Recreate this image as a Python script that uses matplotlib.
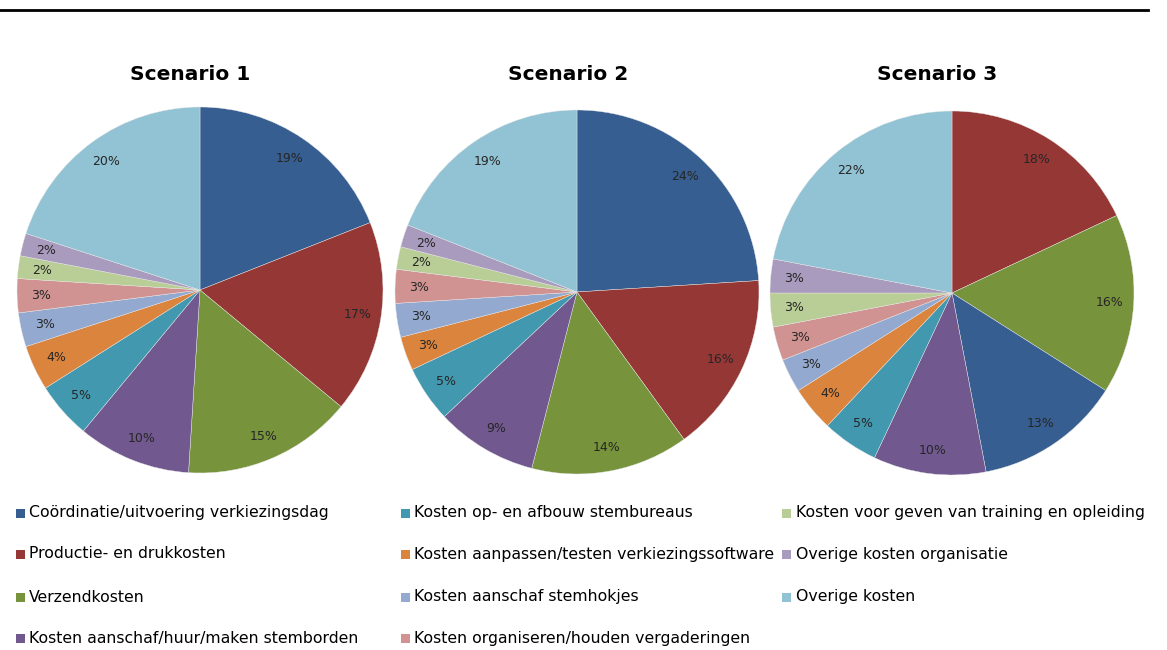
import matplotlib.pyplot as plt
from matplotlib.lines import Line2D
from matplotlib.patches import Rectangle

# categories and colours (legend order)
categories = [
    'Coördinatie/uitvoering verkiezingsdag',
    'Productie- en drukkosten',
    'Verzendkosten',
    'Kosten aanschaf/huur/maken stemborden',
    'Kosten op- en afbouw stembureaus',
    'Kosten aanpassen/testen verkiezingssoftware',
    'Kosten aanschaf stemhokjes',
    'Kosten organiseren/houden vergaderingen',
    'Kosten voor geven van training en opleiding',
    'Overige kosten organisatie',
    'Overige kosten',
]
colors = ['#365E91', '#953735', '#77933C', '#71588F', '#4298AF', '#DB843D',
          '#93A9CF', '#D19392', '#B9CD96', '#A99BBD', '#92C3D4']

titles = ['Scenario 1', 'Scenario 2', 'Scenario 3']
# shares in %, same order as categories
scenario1 = [19, 17, 15, 10, 5, 4, 3, 3, 2, 2, 20]
scenario2 = [24, 16, 14, 9, 5, 3, 3, 3, 2, 2, 19]
scenario3 = [13, 18, 16, 10, 5, 4, 3, 3, 3, 3, 22]
# order in which slices are drawn (clockwise from 12 o'clock)
order12 = [0, 1, 2, 3, 4, 5, 6, 7, 8, 9, 10]
order3 = [1, 2, 0, 3, 4, 5, 6, 7, 8, 9, 10]

W, H = 1167, 650
fig = plt.figure(figsize=(W / 100, H / 100), dpi=100)
fig.patch.set_facecolor('white')

# top rule
fig.add_artist(Line2D([0, 1148 / W], [1 - 10 / H] * 2, color='black', lw=2))

pies = [
    (scenario1, order12, (200, 290), 183, (190, 75)),
    (scenario2, order12, (577, 292), 182, (568, 75)),
    (scenario3, order3, (952, 293), 182, (937, 75)),
]

for (vals, order, (cx, cy), r, (tx, ty)), title in zip(pies, titles):
    ax = fig.add_axes([(cx - r) / W, 1 - (cy + r) / H, 2 * r / W, 2 * r / H])
    v = [vals[i] for i in order]
    c = [colors[i] for i in order]
    ax.pie(v, colors=c, startangle=90, counterclock=False,
           autopct='%.0f%%', pctdistance=0.87,
           wedgeprops=dict(linewidth=0.3, edgecolor='#e8e8e8'),
           textprops=dict(fontsize=9, color='#262626'))
    ax.set_xlim(-1, 1)
    ax.set_ylim(-1, 1)
    fig.text(tx / W, 1 - ty / H, title, ha='center', va='center',
             fontsize=14.5, fontweight='bold', color='black')

# legend, 3 columns filled top to bottom
col_x = [20, 405, 787]
row_y = [513, 554, 597, 638]
for i, (lab, col) in enumerate(zip(categories, colors)):
    x = col_x[i // 4]
    y = row_y[i % 4]
    fig.add_artist(Rectangle(((x - 4.5) / W, 1 - (y + 4.5) / H), 9 / W, 9 / H,
                             facecolor=col, edgecolor='none',
                             transform=fig.transFigure))
    fig.text((x + 9) / W, 1 - y / H, lab, ha='left', va='center',
             fontsize=11.3, color='black')

fig.savefig('out.png', dpi=100)
